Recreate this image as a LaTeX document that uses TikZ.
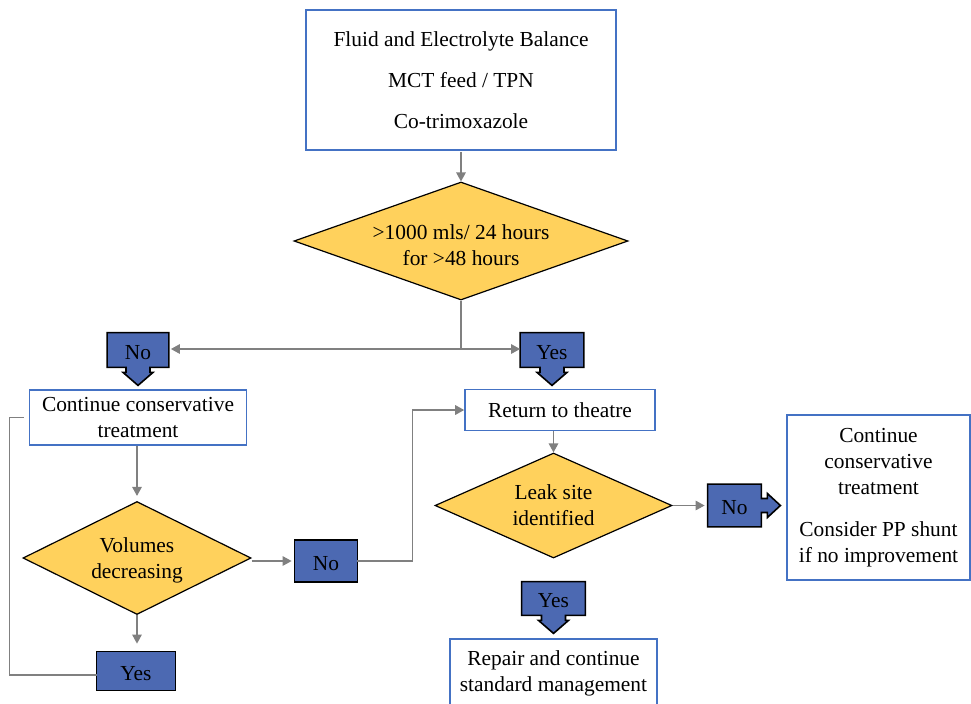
\documentclass[tikz,border=0pt]{standalone}
\usepackage{fontspec}
\setmainfont{Liberation Serif}
\usetikzlibrary{arrows.meta,calc,shapes.geometric,backgrounds}
\definecolor{boxblue}{RGB}{68,114,196}
\definecolor{callblue}{RGB}{76,105,178}
\definecolor{gold}{RGB}{255,209,92}
\definecolor{conn}{RGB}{128,128,128}
\tikzset{
  every node/.style={font=\fontsize{10.7}{13}\selectfont, align=center, inner sep=0pt},
  whitebox/.style={draw=boxblue, line width=0.8pt, fill=white, rectangle},
  decision/.style={diamond, draw=black, line width=0.6pt, fill=gold},
  callnode/.style={rectangle, draw=none, text height=11pt, text depth=2pt},
  callpath/.style={draw=black, line width=0.8pt, fill=callblue},
  link/.style={draw=conn, line width=0.6pt},
  arr/.style={link, -{Triangle[length=4.5pt,width=4.8pt]}},
}
\newcommand\downcall[1]{%
  \begin{pgfonlayer}{background}
  \path[callpath] (#1.north west) -- (#1.north east) -- (#1.south east)
    -- ($(#1.south)+(12,0)$) -- ($(#1.south)+(12,5)$) -- ($(#1.south)+(15,5)$)
    -- ($(#1.south)+(0,18)$) -- ($(#1.south)+(-15,5)$) -- ($(#1.south)+(-12,5)$)
    -- ($(#1.south)+(-12,0)$) -- (#1.south west) -- cycle;
  \end{pgfonlayer}}
\newcommand\flatcall[1]{%
  \begin{pgfonlayer}{background}
  \path[callpath] (#1.north west) -- (#1.north east) -- (#1.south east) -- (#1.south west) -- cycle;
  \end{pgfonlayer}}
\newcommand\rightcall[1]{%
  \begin{pgfonlayer}{background}
  \path[callpath] (#1.north west) -- (#1.north east)
    -- ($(#1.east)+(0,-7)$) -- ($(#1.east)+(6,-7)$) -- ($(#1.east)+(6,-12)$)
    -- ($(#1.east)+(19,0)$) -- ($(#1.east)+(6,12)$) -- ($(#1.east)+(6,7)$)
    -- ($(#1.east)+(0,7)$) -- (#1.south east) -- (#1.south west) -- cycle;
  \end{pgfonlayer}}
\begin{document}
\begin{tikzpicture}[x=0.5pt,y=-0.5pt]
\useasboundingbox (0,0) rectangle (971,703);

% boxes
\node[whitebox, minimum width=155pt, minimum height=70pt] (top) at (461,80)
  {Fluid and Electrolyte Balance\\[7.5pt] MCT feed / TPN\\[7.5pt] Co-trimoxazole};
\node[decision, aspect=2.83, minimum width=167pt, minimum height=59pt] (d1) at (461,241)
  {\rule{0pt}{11.5pt}>1000 mls/ 24 hours\\ for >48 hours};

\node[callnode, minimum width=30.5pt, minimum height=17pt] (no1) at (138,350) {No};
\node[callnode, minimum width=31.5pt, minimum height=17pt] (yes1) at (552,350) {Yes};

\node[whitebox, minimum width=108.5pt, minimum height=27.5pt] (cont) at (138,417.5)
  {Continue conservative\\ treatment};
\node[whitebox, minimum width=95pt, minimum height=20.5pt] (ret) at (560,410)
  {Return to theatre};

\node[decision, aspect=2.0, minimum width=114pt, minimum height=56.5pt] (d2) at (137,558)
  {\rule{0pt}{9.5pt}Volumes\\ decreasing};
\node[callnode, minimum width=31pt, minimum height=20.5pt] (no2) at (326,561) {No};
\node[callnode, minimum width=39pt, minimum height=19pt] (yes2) at (136,671) {Yes};

\node[decision, aspect=2.26, minimum width=118.5pt, minimum height=52.5pt] (ld) at (553.5,505.5)
  {Leak site\\ identified};
\node[callnode, minimum width=26.5pt, minimum height=21pt] (no3) at (734.5,505.5) {No};
\node[callnode, minimum width=31.5pt, minimum height=16.5pt] (yes3) at (553.5,598.5) {Yes};

\node[whitebox, minimum width=91.5pt, minimum height=82.5pt] (right) at (878.5,497.5)
  {Continue\\ conservative\\ treatment\\[8pt] Consider PP shunt\\ if no improvement};
\node[whitebox, minimum width=103.5pt, minimum height=34pt] (rep) at (553.5,673)
  {Repair and continue\\ standard management};

\downcall{no1}
\downcall{yes1}
\flatcall{no2}
\flatcall{yes2}
\rightcall{no3}
\downcall{yes3}

% connectors
\coordinate (j1) at (461,349);
\draw[arr] ([yshift=-0.5pt]top.south) -- (d1.north);
\draw[link] (d1.south) -- (j1);
\draw[arr, shorten >=1pt] (j1) -- (j1 -| no1.east);
\draw[arr] (j1) -- (j1 -| yes1.west);
\draw[arr, shorten >=2.5pt] (cont.south -| d2.north) -- (d2.north);
\draw[arr, shorten >=1.5pt] (no2.west -| d2.east) -- (no2.west);
\draw[arr, shorten >=4pt] (d2.south) -- (d2.south |- yes2.north);
\draw[link, shorten >=2.5pt] ([yshift=-2pt]yes2.west) -- ++(-87,0) |- (cont.west);
\draw[arr] (no2.east) -- ++(55,0) |- (ret.west);
\draw[arr] (ret.south -| ld.north) -- (ld.north);
\draw[arr, shorten >=1.5pt] (ld.east) -- (no3.west);
\end{tikzpicture}
\end{document}
